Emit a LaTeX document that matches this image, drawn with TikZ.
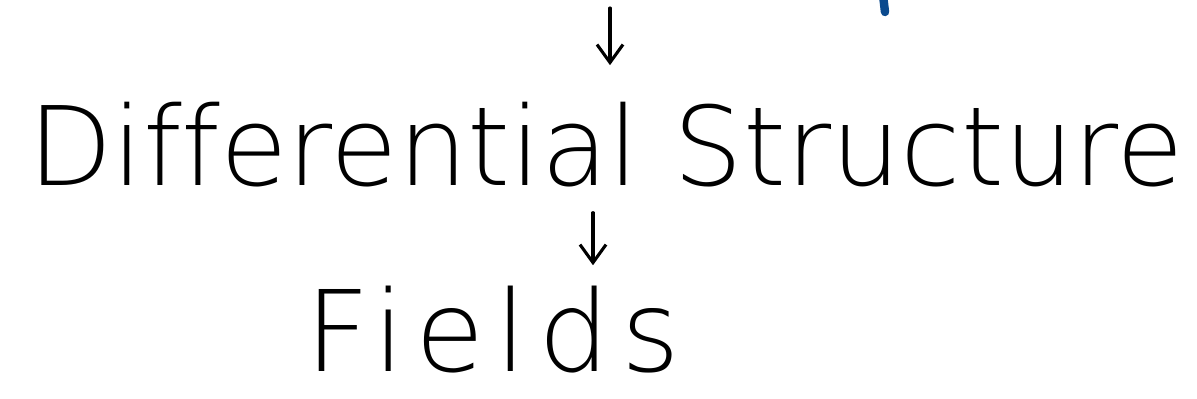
\documentclass[tikz,border=0pt]{standalone}
\usepackage{fontspec}
\setmainfont{DejaVuSans-ExtraLight.ttf}[Ligatures=NoCommon]
\usepackage{tikz}
\usetikzlibrary{arrows.meta,positioning,calc}
\definecolor{penblue}{HTML}{0B4A8E}

\begin{document}
\begin{tikzpicture}[x=0.025cm,y=-0.025cm,>={Straight Barb[length=0.45cm,width=0.65cm]},every node/.style={inner sep=0pt,font=\fontsize{78}{90}\selectfont}]
  \useasboundingbox (0,0) rectangle (1197,399);
  \node[anchor=base west] (diff) at (28,186) {Differential Structure};
  \node[anchor=base west,font=\fontsize{80}{92}\selectfont\addfontfeatures{LetterSpace=10}] (fields) at (305,371) {Fields};
  \coordinate (from) at (610,8);
  \draw[->,line width=2.2pt,line cap=round,shorten >=0.93cm] (from) -- (from |- diff.north);
  \draw[->,line width=2.2pt,line cap=round,shorten <=0.62cm,shorten >=0.5cm] (diff.south -| 593,0) -- (fields.north -| 593,0);
  % pen stroke cut off at the top edge
  \draw[penblue,line width=6pt,line cap=round] (883,-5) -- (885,12);
\end{tikzpicture}
\end{document}
